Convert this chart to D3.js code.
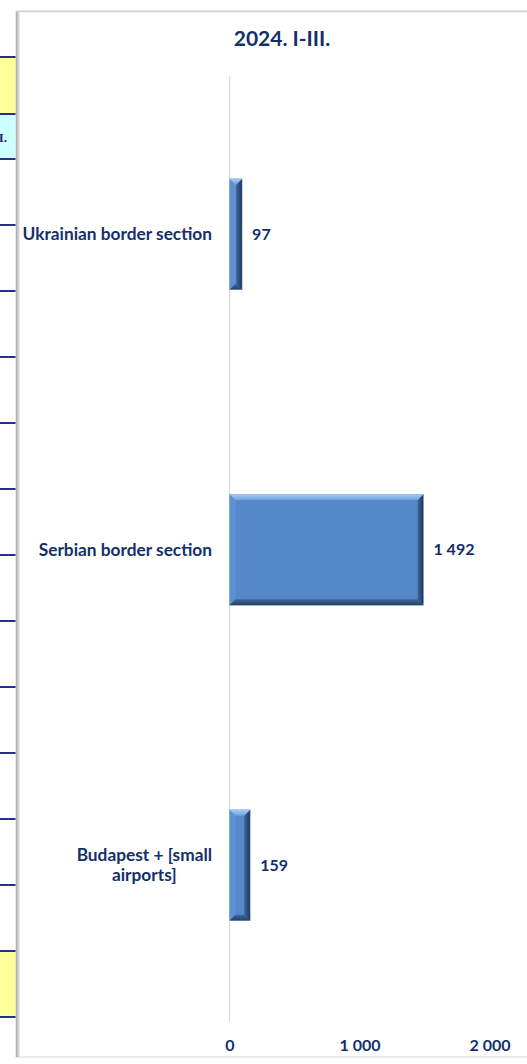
<!DOCTYPE html>
<html>
<head>
<meta charset="utf-8">
<script src="https://cdn.jsdelivr.net/npm/d3@7"></script>
<style>
  html, body { margin: 0; padding: 0; background: #ffffff; }
  svg { display: block; }
  text { font-family: Lato, "Open Sans", sans-serif; font-weight: 700; fill: #13306a; }
</style>
</head>
<body>
<svg id="chart" width="527" height="1064"></svg>
<script>
// ---- data ----
const title = "2024. I-III.";
const categories = ["Ukrainian border section", "Serbian border section", "Budapest + [small airports]"];
const values = [97, 1492, 159];
const tickValues = [0, 1000, 2000];
const xDomain = [0, 2000];

// ---- layout ----
const W = 527, H = 1064;
const svg = d3.select("#chart");
const fmt = d3.formatLocale({ decimal: ",", thousands: " ", grouping: [3], currency: ["", ""] }).format(",d");

// fragment of the neighbouring table on the left
const strip = svg.append("g");
strip.append("rect").attr("x", 0).attr("y", 57).attr("width", 16).attr("height", 57).attr("fill", "#ffff99");
strip.append("rect").attr("x", 0).attr("y", 114).attr("width", 16).attr("height", 45).attr("fill", "#ccffff");
strip.append("rect").attr("x", 0).attr("y", 951).attr("width", 16).attr("height", 66).attr("fill", "#ffff99");
const rowLines = [57, 114, 159].concat(d3.range(1, 14).map(k => 159 + 66 * k));
strip.selectAll("line").data(rowLines).join("line")
  .attr("x1", 0).attr("x2", 16).attr("y1", d => d).attr("y2", d => d)
  .attr("stroke", "#2a2e8c").attr("stroke-width", 2);
strip.append("text").attr("x", 7).attr("y", 142).attr("text-anchor", "end")
  .style("font-family", "'Liberation Serif', serif").style("font-size", "13px").style("fill", "#1d2a6b").text("I.");

// chart area frame
const defs = svg.append("defs");
const lg = defs.append("linearGradient").attr("id", "leftShadow").attr("x1", 0).attr("x2", 1).attr("y1", 0).attr("y2", 0);
lg.append("stop").attr("offset", "0%").attr("stop-color", "#a2a2aa");
lg.append("stop").attr("offset", "35%").attr("stop-color", "#c4c4c8");
lg.append("stop").attr("offset", "100%").attr("stop-color", "#f0f0f0");
svg.append("rect").attr("x", 16).attr("y", 11).attr("width", W).attr("height", 1046)
  .attr("fill", "#ffffff").attr("stroke", "#d6d6d6").attr("stroke-width", 1);
svg.append("rect").attr("x", 16).attr("y", 11).attr("width", 4).attr("height", 1046).attr("fill", "url(#leftShadow)");
svg.append("line").attr("x1", 16).attr("x2", W).attr("y1", 11.5).attr("y2", 11.5).attr("stroke", "#d4d4d4").attr("stroke-width", 1.5);

// scales
const x = d3.scaleLinear().domain(xDomain).range([229.5, 489.5]);
const y = d3.scaleBand().domain(categories).range([76.5, 1023]).paddingInner(0.648).paddingOuter(0.324);

// zero gridline
svg.append("line").attr("x1", x(0)).attr("x2", x(0)).attr("y1", 76).attr("y2", 1021)
  .attr("stroke", "#d9d9d9").attr("stroke-width", 1.2);

// title
svg.append("text").attr("x", 282).attr("y", 46).attr("text-anchor", "middle")
  .style("font-size", "21px").text(title);

// bars with bevel
const gradR = defs.append("linearGradient").attr("id", "rightEdge").attr("x1", 0).attr("x2", 1).attr("y1", 0).attr("y2", 0);
gradR.append("stop").attr("offset", "0%").attr("stop-color", "#3f6aa0");
gradR.append("stop").attr("offset", "100%").attr("stop-color", "#1c3556");
const gradB = defs.append("linearGradient").attr("id", "bottomEdge").attr("x1", 0).attr("x2", 0).attr("y1", 0).attr("y2", 1);
gradB.append("stop").attr("offset", "0%").attr("stop-color", "#40699c");
gradB.append("stop").attr("offset", "100%").attr("stop-color", "#243f62");
const gradT = defs.append("linearGradient").attr("id", "topEdge").attr("x1", 0).attr("x2", 0).attr("y1", 0).attr("y2", 1);
gradT.append("stop").attr("offset", "0%").attr("stop-color", "#a9cdf4");
gradT.append("stop").attr("offset", "100%").attr("stop-color", "#6d9fdc");

const bars = svg.append("g").selectAll("g").data(categories.map((c, i) => ({ c, v: values[i] }))).join("g");
bars.each(function (d) {
  const g = d3.select(this);
  const x0 = x(0), x1 = x(d.v), y0 = y(d.c), y1 = y(d.c) + y.bandwidth();
  const b = Math.min(6, (x1 - x0) / 2);
  g.append("rect").attr("x", x0).attr("y", y0).attr("width", x1 - x0).attr("height", y1 - y0).attr("fill", "#5588c8");
  const poly = (pts, fill) => g.append("polygon").attr("points", pts.map(p => p.join(",")).join(" ")).attr("fill", fill);
  poly([[x0, y0], [x0 + b, y0 + b], [x0 + b, y1 - b], [x0, y1]], "#5d91d2");
  poly([[x0, y1], [x0 + b, y1 - b], [x1 - b, y1 - b], [x1, y1]], "url(#bottomEdge)");
  poly([[x1, y0], [x1, y1], [x1 - b, y1 - b], [x1 - b, y0 + b]], "url(#rightEdge)");
  poly([[x0, y0], [x1, y0], [x1 - b, y0 + b], [x0 + b, y0 + b]], "url(#topEdge)");
  g.append("rect").attr("x", x0).attr("y", y0).attr("width", x1 - x0).attr("height", y1 - y0)
    .attr("fill", "none").attr("stroke", "#9dbbe0").attr("stroke-width", 0.6).attr("stroke-opacity", 0.7);
});

// value labels
svg.append("g").selectAll("text").data(values).join("text")
  .attr("x", d => x(d) + 10)
  .attr("y", (d, i) => y(categories[i]) + y.bandwidth() / 2)
  .attr("dy", "0.35em")
  .style("font-size", "16px")
  .text(d => fmt(d));

// category labels (wrapped, centred lines, right edge at 212)
const labelRight = 212, maxW = 196, lineH = 20;
const catG = svg.append("g");
categories.forEach(c => {
  const t = catG.append("text").style("font-size", "17.3px").attr("text-anchor", "middle");
  const words = c.split(" ");
  const lines = [];
  let cur = [];
  words.forEach(w => {
    const test = cur.concat([w]).join(" ");
    t.text(test);
    if (t.node().getComputedTextLength() > maxW && cur.length) { lines.push(cur.join(" ")); cur = [w]; }
    else cur.push(w);
  });
  lines.push(cur.join(" "));
  const widths = lines.map(l => { t.text(l); return t.node().getComputedTextLength(); });
  t.text(null);
  const bw = d3.max(widths);
  const cx = labelRight - bw / 2;
  const cy = y(c) + y.bandwidth() / 2;
  lines.forEach((l, i) => {
    t.append("tspan").attr("x", cx).attr("y", cy + (i - (lines.length - 1) / 2) * lineH).attr("dy", "0.35em").text(l);
  });
});

// x axis
const axis = svg.append("g").attr("transform", "translate(0,1039)")
  .call(d3.axisBottom(x).tickValues(tickValues).tickSize(0).tickPadding(0).tickFormat(fmt));
axis.select(".domain").remove();
axis.selectAll("text").attr("dy", "0.35em").attr("y", 6)
  .style("font-family", "Lato, sans-serif").style("font-weight", 700).style("font-size", "16px").style("fill", "#13306a");
</script>
</body>
</html>
